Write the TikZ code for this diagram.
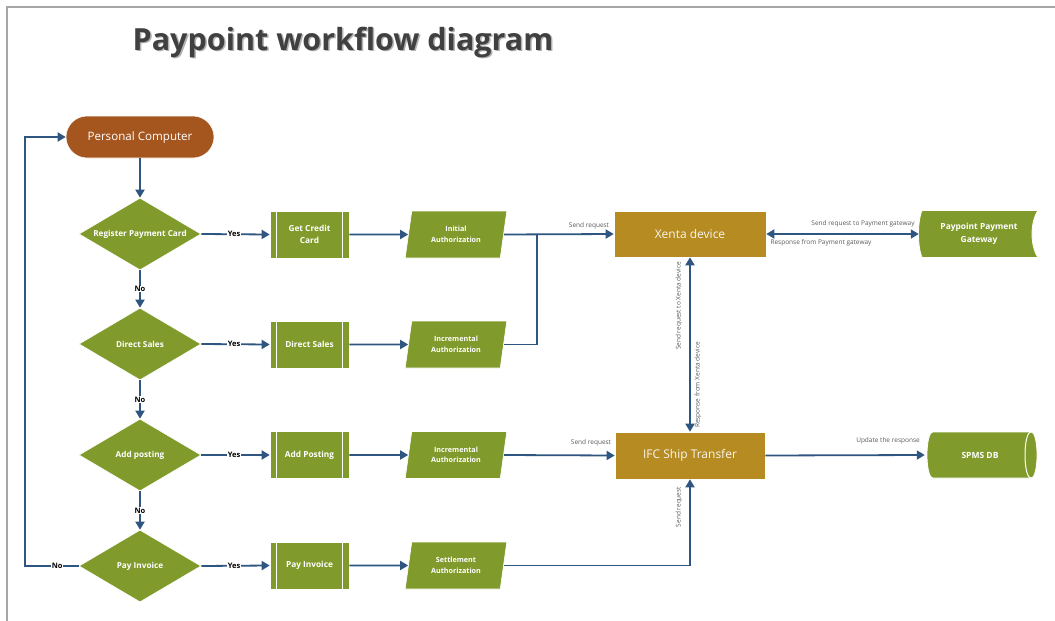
\documentclass[tikz,border=0pt]{standalone}
\usepackage{fontspec}
\setmainfont{Open Sans}
\usetikzlibrary{shapes.geometric,arrows.meta,calc}
\definecolor{ogreen}{HTML}{809B2C}
\definecolor{obrown}{HTML}{A4561E}
\definecolor{ogold}{HTML}{B58B22}
\definecolor{oblue}{HTML}{2E5681}
\definecolor{otitle}{HTML}{404040}
\definecolor{olabel}{HTML}{595959}
\definecolor{oframe}{HTML}{A6A6A6}
\tikzset{
  decision/.style={diamond,shape aspect=1.69,fill=ogreen,draw=white,line width=0.6pt,minimum width=122pt,minimum height=72pt,inner sep=0pt,text=white,font=\fontsize{8.2}{10}\selectfont\bfseries,align=center},
  procbox/.style={rectangle,fill=ogreen,draw=white,line width=0.6pt,minimum width=79pt,minimum height=47pt,inner sep=0pt,text=white,font=\fontsize{8.3}{12}\selectfont\bfseries,align=center},
  databox/.style={trapezium,trapezium stretches=true,trapezium left angle=77,trapezium right angle=103,fill=ogreen,draw=white,line width=0.6pt,minimum width=102pt,minimum height=47pt,inner sep=0pt,text=white,font=\fontsize{7.2}{10.5}\selectfont\bfseries,align=center},
  devbox/.style={rectangle,fill=ogold,draw=white,line width=0.6pt,inner sep=0pt,text=white!92!ogold,font=\fontsize{12}{14}\selectfont},
  flow/.style={draw=oblue,line width=1.8pt,-{Triangle[length=8pt,width=9pt]}},
  biflow/.style={draw=oblue,line width=1.8pt,{Triangle[length=8pt,width=9pt]}-{Triangle[length=8pt,width=9pt]}},
  plain/.style={draw=oblue,line width=1.8pt},
  yn/.style={fill=white,inner sep=0.6pt,font=\fontsize{7.5}{8}\selectfont\bfseries,text=black},
  clabel/.style={inner sep=0pt,font=\fontsize{6.5}{7}\selectfont,text=olabel},
  shapefill/.style={fill=ogreen,draw=white,line width=0.8pt},
}
\begin{document}
\begin{tikzpicture}[x=1pt,y=-1pt]
\useasboundingbox (0,0) rectangle (1055,621);
% frame
\draw[oframe,line width=1.5pt] (7,621) -- (7,7) -- (1055,7);
% title
\node[text=black!30,font=\fontsize{30.5}{32}\selectfont\bfseries] at (344.5,43.5) {Paypoint workflow diagram};
\node (title) [text=otitle,font=\fontsize{30.5}{32}\selectfont\bfseries] at (343,42) {Paypoint workflow diagram};
% start
\node (pc) [rectangle,rounded corners=21pt,fill=obrown,draw=white,line width=0.6pt,minimum width=148pt,minimum height=42pt,text=white,font=\fontsize{11.6}{13}\selectfont] at (140,137) {Personal Computer};
% decisions
\node (d1) [decision] at (140,234) {Register Payment Card};
\node (d2) [decision] at (140,344) {Direct Sales};
\node (d3) [decision] at (140,455) {Add posting};
\node (d4) [decision] at (140,566) {Pay Invoice};
% processes
\node (b1) [procbox] at (309.5,234.5) {Get Credit\\Card};
\node (b2) [procbox] at (309.5,344.5) {Direct Sales};
\node (b3) [procbox] at (309.5,455) {Add Posting};
\node (b4) [procbox] at (309.5,565.5) {Pay Invoice};
\foreach \b in {b1,b2,b3,b4}{
  \draw[white,line width=1pt] ($(\b.north west)+(7,0)$) -- ($(\b.south west)+(7,0)$);
  \draw[white,line width=1pt] ($(\b.north east)+(-7,0)$) -- ($(\b.south east)+(-7,0)$);
}
% data
\node (p1) [databox] at (456,234.5) {Initial\\Authorization};
\node (p2) [databox] at (456,344.5) {Incremental\\Authorization};
\node (p3) [databox] at (456,455) {Incremental\\Authorization};
\node (p4) [databox] at (456,565.5) {Settlement\\Authorization};
% devices
\node (xenta) [devbox,minimum width=152pt,minimum height=46pt] at (690,234) {Xenta device};
\node (ifc) [devbox,minimum width=150pt,minimum height=47pt] at (690,455.5) {IFC Ship Transfer};
% gateway (stored data shape)
\fill[shapefill] (922,210.5) -- (1038,210.5)
   .. controls (1030,222) and (1030,246) .. (1038,257.5)
   -- (922,257.5)
   .. controls (917.3,246) and (917.3,222) .. (922,210.5) -- cycle;
\node (gw) [rectangle,minimum width=120pt,minimum height=47pt,inner sep=0pt,text=white,font=\fontsize{8.4}{12.5}\selectfont\bfseries,align=center] at (979,234) {Paypoint Payment\\Gateway};
% SPMS DB (cylinder)
\fill[shapefill] (933,432) -- (1031,432)
   .. controls (1039,432) and (1039,478) .. (1031,478)
   -- (933,478)
   .. controls (925,478) and (925,432) .. (933,432) -- cycle;
\draw[white,line width=1pt] (1031,432) .. controls (1023,432) and (1023,478) .. (1031,478);
\node (db) [rectangle,minimum width=110pt,minimum height=46pt,inner sep=0pt,text=white,font=\fontsize{8.5}{10}\selectfont\bfseries] at (980,455) {SPMS DB};
% connectors
\draw[flow] (pc.south) -- (d1.north);
\draw[flow] (d1.south) -- node[yn]{No} (d2.north);
\draw[flow] (d2.south) -- node[yn]{No} (d3.north);
\draw[flow] (d3.south) -- node[yn]{No} (d4.north);
\draw[flow] (d1.east) -- node[yn,pos=0.48]{Yes} (b1.west);
\draw[flow] (d2.east) -- node[yn,pos=0.48]{Yes} (b2.west);
\draw[flow] (d3.east) -- node[yn,pos=0.48]{Yes} (b3.west);
\draw[flow] (d4.east) -- node[yn,pos=0.48]{Yes} (b4.west);
\foreach \i in {1,2,3,4}{\draw[flow] (b\i.east) -- (p\i.west);}
\coordinate (lc) at (25,566);
\draw[flow] (d4.west) -- node[yn,pos=0.4]{No} (lc) |- (pc.west);
\coordinate (jn) at (537,234.5);
\draw[flow] (p1.east) -- (xenta.west);
\draw[plain] (p2.east) -| (jn);
\node[clabel] at (589,226) {Send request};
\draw[biflow] (xenta.east) -- (gw.west);
\node[clabel] at (863,224) {Send request to Payment gateway};
\node[clabel] at (821,243) {Response from Payment gateway};
\draw[biflow] (xenta.south) -- (ifc.north);
\node[clabel,rotate=90] at (679,306) {Send request to Xenta device};
\node[clabel,rotate=90] at (698,385) {Response from Xenta device};
\draw[flow] (p3.east) -- (ifc.west);
\node[clabel] at (591,443) {Send request};
\draw[flow] (p4.east) -| (ifc.south);
\node[clabel,rotate=90] at (679,507) {Send request};
\draw[flow] (ifc.east) -- (db.west);
\node[clabel] at (888,441) {Update the response};
\end{tikzpicture}
\end{document}
